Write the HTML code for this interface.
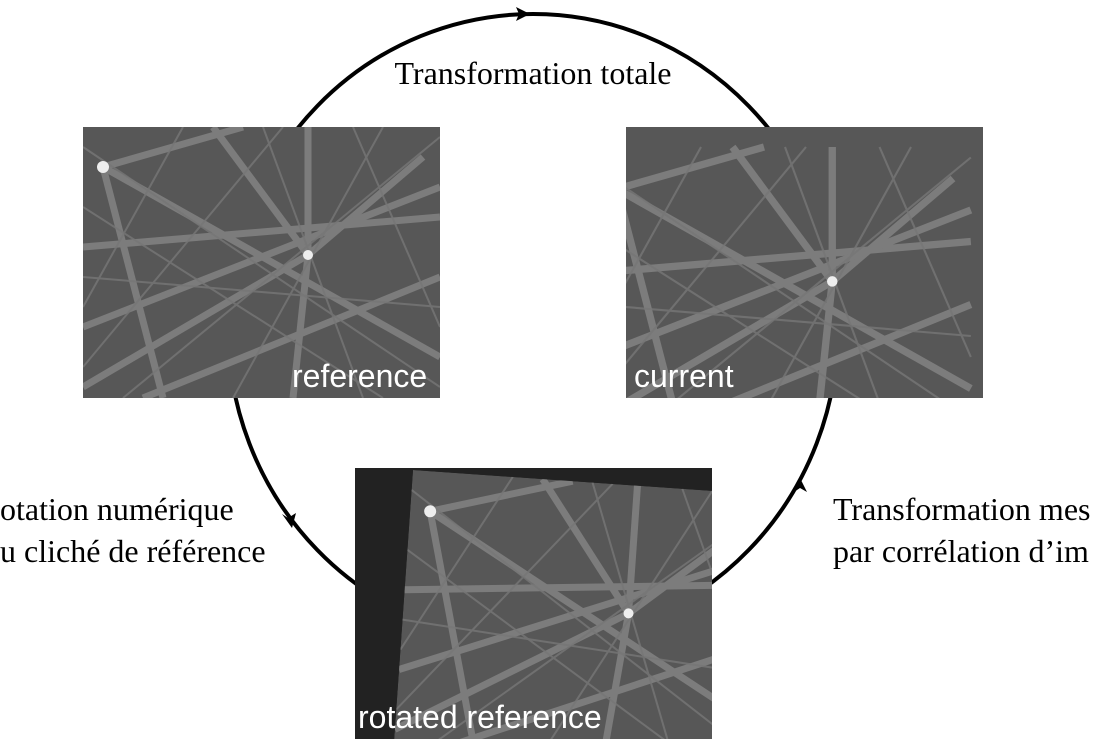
<!DOCTYPE html>
<html><head><meta charset="utf-8"><style>
html,body{margin:0;padding:0;background:#fff;overflow:hidden;}
body{width:1095px;height:744px;overflow:hidden;position:relative;}
svg{position:absolute;left:0;top:0;overflow:hidden;}
</style></head><body>
<svg width="1095" height="744" viewBox="0 0 1095 744">
<defs>
<g id="kik">
  <rect x="0" y="0" width="357" height="271" fill="#575757"/>
  <g stroke="#8c8c8c" stroke-width="7" opacity="0.7">
    <line x1="20" y1="40" x2="357" y2="230"/>
    <line x1="20" y1="40" x2="80" y2="271"/>
    <line x1="20" y1="40" x2="160" y2="0"/>
    <line x1="225" y1="128" x2="225" y2="0"/>
    <line x1="225" y1="128" x2="210" y2="271"/>
    <line x1="225" y1="128" x2="0" y2="260"/>
    <line x1="225" y1="128" x2="340" y2="30"/>
    <line x1="225" y1="128" x2="130" y2="0"/>
    <line x1="0" y1="120" x2="357" y2="90"/>
    <line x1="0" y1="200" x2="357" y2="60"/>
    <line x1="60" y1="271" x2="357" y2="150"/>
  </g>
  <g stroke="#777" stroke-width="2" opacity="0.8">
    <line x1="0" y1="20" x2="357" y2="260"/>
    <line x1="100" y1="0" x2="0" y2="180"/>
    <line x1="300" y1="0" x2="150" y2="271"/>
    <line x1="0" y1="80" x2="300" y2="271"/>
    <line x1="357" y1="10" x2="40" y2="271"/>
    <line x1="270" y1="0" x2="357" y2="200"/>
    <line x1="0" y1="150" x2="357" y2="180"/>
    <line x1="180" y1="0" x2="280" y2="271"/>
    <line x1="0" y1="240" x2="200" y2="0"/>
  </g>
  <circle cx="20" cy="40" r="6" fill="#eee"/>
  <circle cx="225" cy="128" r="5" fill="#eee"/>
</g>
<clipPath id="clipImg"><rect x="0" y="0" width="357" height="271"/></clipPath>
</defs>
<ellipse cx="533" cy="328" rx="305" ry="314" fill="none" stroke="#000" stroke-width="4"/>
<polygon points="530,14 516,7 519,14 516,21" fill="#000"/>
<polygon points="292,528 282,514 288,518 296,513" fill="#000"/>
<polygon points="800,478 794,492 800,488 807,492" fill="#000"/>

<g transform="translate(83,127)">
  <g clip-path="url(#clipImg)"><use href="#kik"/></g>
  <text x="209" y="260" font-family="Liberation Sans, sans-serif" font-size="32" fill="#fff">reference</text>
</g>
<g transform="translate(626,127)">
  <g clip-path="url(#clipImg)">
    <rect width="357" height="271" fill="#575757"/>
    <g transform="translate(-30,20) scale(1.05)"><use href="#kik"/></g>
  </g>
  <text x="8" y="260" font-family="Liberation Sans, sans-serif" font-size="32" fill="#fff">current</text>
</g>
<g transform="translate(355,468)">
  <g clip-path="url(#clipImg)">
    <rect width="357" height="271" fill="#222"/>
    <g transform="translate(58,2) rotate(4)">
      <g clip-path="url(#clipImg)"><use href="#kik"/></g>
    </g>
  </g>
  <text x="3" y="260" font-family="Liberation Sans, sans-serif" font-size="32" fill="#fff">rotated reference</text>
</g>

<g font-family="Liberation Serif, serif" font-size="32" fill="#000">
  <text x="533" y="84" text-anchor="middle">Transformation totale</text>
  <text x="0" y="520">otation numérique</text>
  <text x="0" y="562">u cliché de référence</text>
  <text x="833" y="520">Transformation mes</text>
  <text x="833" y="562">par corrélation d’im</text>
</g>
</svg>
</body></html>
